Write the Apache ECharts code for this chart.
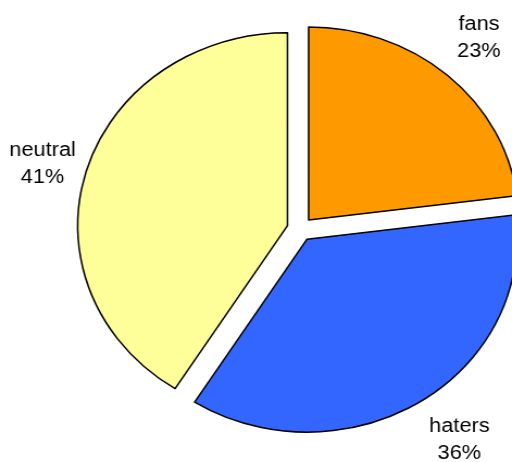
<!DOCTYPE html>
<html>
<head>
<meta charset="utf-8">
<script src="https://cdn.jsdelivr.net/npm/echarts@6/dist/echarts.min.js"></script>
<style>
    html, body { margin: 0; padding: 0; background: #fff; overflow: hidden; }
    /* the reference pie is an ellipse, so the canvas is stretched sideways */
    #chart { width: 471px; height: 462px; transform: scaleX(1.087); transform-origin: 0 0; }
</style>
</head>
<body>
<div id="chart"></div>
<script>
const categories = ["fans", "haters", "neutral"];
const values = [23, 36, 41];
const colors = ["#FF9900", "#3366FF", "#FFFF99"];

const myChart = echarts.init(document.getElementById("chart"), null, { renderer: "canvas" });

const border = { borderColor: "#000", borderWidth: 1.5 };
// small nudges so the labels sit where the original put them
const labelNudge = [[-4, 0], [10, -4], [8, 6]];

// slices, all pulled out a little from the middle
const slices = categories.map((name, i) => {
    const style = Object.assign({ color: colors[i] }, border);
    return {
        name: name,
        value: values[i],
        selected: true,
        itemStyle: style,
        select: { itemStyle: style }
    };
});

// same data again, invisible ring, only used to put the labels centred outside
const labelRing = categories.map((name, i) => ({
    name: name,
    value: values[i],
    label: { offset: labelNudge[i] }
}));

const option = {
    animation: false,
    series: [
        {
            type: "pie",
            center: [276, 229],
            radius: [0, 193],
            startAngle: 90,
            clockwise: true,
            selectedMode: "multiple",
            selectedOffset: 12,
            silent: true,
            label: { show: false },
            labelLine: { show: false },
            emphasis: { disabled: true },
            data: slices
        },
        {
            type: "pie",
            center: [276, 229],
            radius: [244, 260],
            startAngle: 90,
            clockwise: true,
            silent: true,
            avoidLabelOverlap: false,
            itemStyle: { color: "transparent", borderWidth: 0 },
            emphasis: { disabled: true },
            label: {
                show: true,
                position: "inside",
                formatter: "{b}\n{d}%",
                color: "#000",
                fontFamily: "Liberation Sans, Arial, sans-serif",
                fontSize: 20,
                lineHeight: 27
            },
            labelLine: { show: false },
            data: labelRing
        }
    ]
};

myChart.setOption(option);
</script>
</body>
</html>
